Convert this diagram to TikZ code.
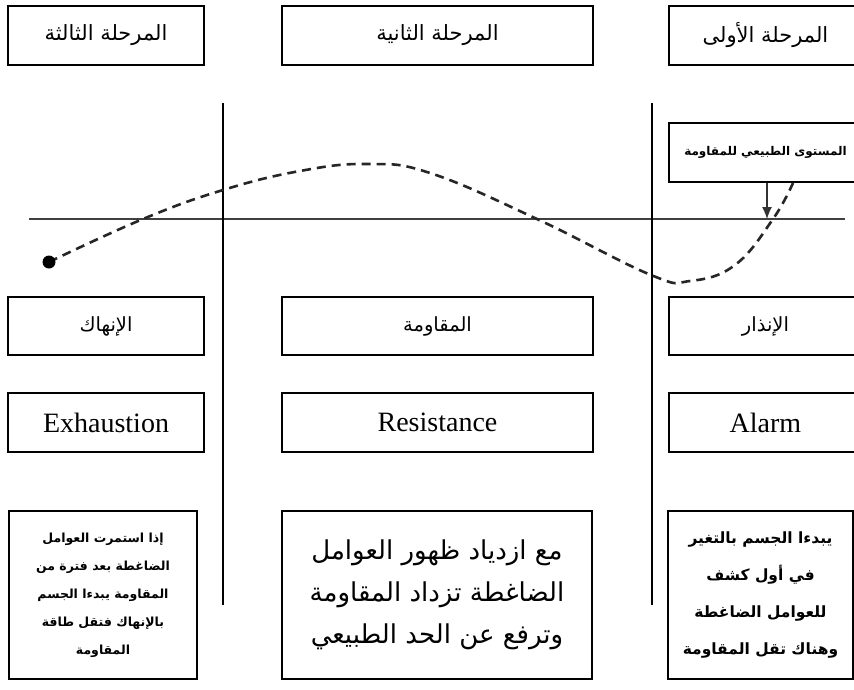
\documentclass[tikz,border=0pt]{standalone}
\usepackage{fontspec}
\usepackage{tikz}
\usetikzlibrary{arrows.meta, positioning}
\setmainfont{Liberation Serif}
\newfontfamily\arabicfont[Script=Arabic]{DejaVu Sans}
\TeXXeTstate=1
\newcommand{\arline}[1]{\beginR #1\endR}

\begin{document}
\begin{tikzpicture}[x=1pt, y=-1pt, node distance=96.5pt]
% Define styles
\tikzstyle{stage} = [rectangle, draw=black, line width=1.3pt, fill=white, text centered, minimum height=59pt, inner sep=0pt, font=\arabicfont\fontsize{21}{24}\selectfont]
\tikzstyle{phase} = [stage, minimum height=58pt, font=\arabicfont\fontsize{19.5}{22}\selectfont]
\tikzstyle{engl} = [stage, font=\fontsize{28}{30}\selectfont]
\tikzstyle{note} = [stage, minimum height=168pt, align=center]
\tikzstyle{axis} = [line width=1.5pt, draw=black]
\tikzstyle{curve} = [line width=2.6pt, draw=black!85, dash pattern=on 9pt off 6pt]
\tikzstyle{arrow} = [-{Latex[length=12pt, width=10pt]}, line width=1.3pt, draw=black!80]
\clip (0,0) rectangle (854,689);
\fill[white] (0,0) rectangle (854,689);
% Define top row (stages)
\node[stage, minimum width=196pt] (StageThree) at (106,35.5) {\arline{المرحلة الثالثة}};
\node[stage, minimum width=311pt] (StageTwo) at (437.5,35.5) {\arline{المرحلة الثانية}};
\node[stage, minimum width=193pt] (StageOne) at (765.5,35.5) {\arline{المرحلة الأولى}};
% Define second row (phase names)
\node[phase, minimum width=196pt, below of=StageThree, yshift=-194pt] (Exhaust) {\arline{الإنهاك}};
\node[phase, minimum width=311pt, below of=StageTwo, yshift=-194pt] (Resist) {\arline{المقاومة}};
\node[phase, minimum width=193pt, below of=StageOne, yshift=-194pt] (Alarm) {\arline{الإنذار}};
% Define third row (english names)
\node[engl, minimum width=196pt, below of=Exhaust] (ExhaustEn) {Exhaustion};
\node[engl, minimum width=311pt, below of=Resist] (ResistEn) {Resistance};
\node[engl, minimum width=193pt, below of=Alarm] (AlarmEn) {Alarm};
% Define bottom row (descriptions)
\node[note, minimum width=188pt, below of=ExhaustEn, yshift=-76pt, xshift=-3pt,
  font=\arabicfont\bfseries\fontsize{12.5}{28}\selectfont] (ExhaustTxt)
  {\arline{إذا استمرت العوامل}\\ \arline{الضاغطة بعد فترة من}\\ \arline{المقاومة يبدءا الجسم}\\ \arline{بالإنهاك فتقل طاقة}\\ \arline{المقاومة}};
\node[note, minimum width=310pt, below of=ResistEn, yshift=-76pt, xshift=-0.5pt,
  font=\arabicfont\fontsize{26}{42}\selectfont] (ResistTxt)
  {\arline{مع ازدياد ظهور العوامل}\\ \arline{الضاغطة تزداد المقاومة}\\ \arline{وترفع عن الحد الطبيعي}};
\node[note, minimum width=185pt, below of=AlarmEn, yshift=-76pt, xshift=-5pt,
  font=\arabicfont\bfseries\fontsize{15.5}{37}\selectfont] (AlarmTxt)
  {\arline{يبدءا الجسم بالتغير}\\ \arline{في أول كشف}\\ \arline{للعوامل الضاغطة}\\ \arline{وهناك تقل المقاومة}};
% Define normal level box
\node[stage, minimum width=193pt, font=\arabicfont\bfseries\fontsize{12}{14}\selectfont] (Normal) at (765.5,152.5) {\arline{المستوى الطبيعي للمقاومة}};
% Axes
\coordinate (LineW) at (29,219);
\coordinate (LineE) at (845,219);
\coordinate (SepA) at (223,103);
\coordinate (SepB) at (652,103);
\coordinate (Level) at (767,219);
\draw[line width=1.2pt, draw=black!75] (LineW) -- (LineE);
\draw[axis] (SepA) -- ++(0,502);
\draw[axis] (SepB) -- ++(0,502);
% Resistance curve
\coordinate (Start) at (49,262);
\draw[curve] plot[smooth, tension=0.7] coordinates {(Start) (143,219) (223,190) (300,171) (367,164) (430,173) (537,219) (651,275) (690,281) (735,265) (773,219) (793,183)};
\fill (Start) circle (6.5);
% Relationships (arrows)
\draw[arrow] (Level |- Normal.south) -- (Level);
\end{tikzpicture}
\end{document}
